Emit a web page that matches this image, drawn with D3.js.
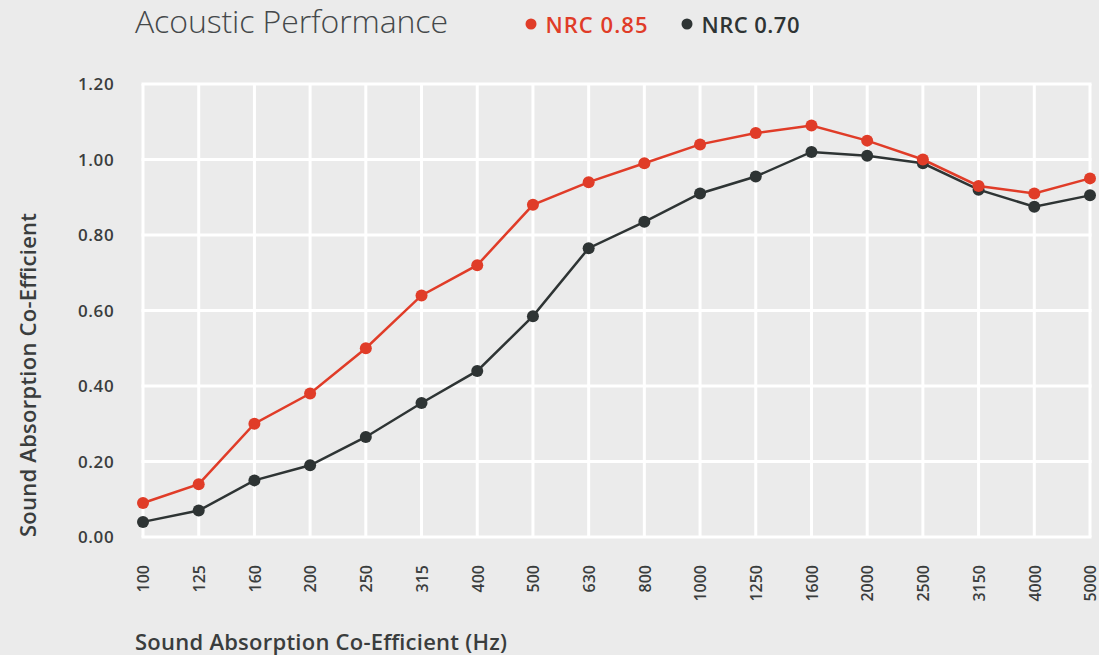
<!DOCTYPE html>
<html><head><meta charset="utf-8">
<script src="https://cdn.jsdelivr.net/npm/d3@7"></script>
<style>
html,body{margin:0;padding:0;background:#ebebeb;}
svg{display:block;font-family:"Open Sans",sans-serif;}
</style></head><body>
<svg id="c" width="1099" height="655"></svg>
<script>
const categories = ["100","125","160","200","250","315","400","500","630","800","1000","1250","1600","2000","2500","3150","4000","5000"];
const nrc085 = [0.09,0.14,0.30,0.38,0.50,0.64,0.72,0.88,0.94,0.99,1.04,1.07,1.09,1.05,1.00,0.93,0.91,0.95];
const nrc070 = [0.04,0.07,0.15,0.19,0.265,0.355,0.44,0.585,0.765,0.835,0.91,0.955,1.02,1.01,0.99,0.92,0.875,0.905];
const yTicks = [0,0.2,0.4,0.6,0.8,1.0,1.2];
const seriesNames = ["NRC 0.85","NRC 0.70"];
const colors = ["#e03c28","#2e3434"];

const svg = d3.select("#c");
const L=143, R=1090, T=84, B=537;
const x = d3.scalePoint().domain(categories).range([L,R]);
const y = d3.scaleLinear().domain([0,1.2]).range([B,T]);
const txt = "#3a3d3d";

// grid
const g = svg.append("g");
g.selectAll(".hg").data(yTicks).join("line")
  .attr("x1",L-1.5).attr("x2",R+1.5).attr("y1",d=>y(d)).attr("y2",d=>y(d))
  .attr("stroke","#fff").attr("stroke-width",3);
g.selectAll(".vg").data(categories).join("line")
  .attr("x1",d=>x(d)).attr("x2",d=>x(d)).attr("y1",T).attr("y2",B)
  .attr("stroke","#fff").attr("stroke-width",3);

// y axis labels
const yAxis = d3.axisLeft(y).tickValues(yTicks).tickFormat(d3.format(".2f")).tickSize(0).tickPadding(0);
const ya = svg.append("g").attr("transform",`translate(78,0)`).call(yAxis);
ya.select(".domain").remove();
ya.selectAll("text").attr("text-anchor","start").attr("x",0)
  .attr("font-size",17).attr("font-weight",600).attr("fill",txt).attr("letter-spacing",0.6)
  .attr("font-family","'Open Sans',sans-serif").attr("dy","0.35em");

// x axis labels
const xAxis = d3.axisBottom(x).tickSize(0).tickPadding(0);
const xa = svg.append("g").attr("transform",`translate(0,565)`).call(xAxis);
xa.select(".domain").remove();
xa.selectAll("text").attr("transform","rotate(-90)").attr("text-anchor","end")
  .attr("x",0).attr("y",0).attr("dx",0).attr("dy","0.36em")
  .attr("font-size",16).attr("font-weight",600).attr("fill",txt)
  .attr("font-family","'Open Sans',sans-serif");

// lines
const data = [nrc085, nrc070];
const line = d3.line().x((d,i)=>x(categories[i])).y(d=>y(d));
[1,0].forEach(k=>{
  svg.append("path").datum(data[k]).attr("d",line).attr("fill","none")
    .attr("stroke",colors[k]).attr("stroke-width",2.5);
  svg.append("g").selectAll("circle").data(data[k]).join("circle")
    .attr("cx",(d,i)=>x(categories[i])).attr("cy",d=>y(d)).attr("r",6)
    .attr("fill",colors[k]);
});

// title
svg.append("text").attr("x",135).attr("y",33).text("Acoustic Performance")
  .attr("font-size",32).attr("font-weight",300).attr("fill","#44484a")
  .attr("textLength",313).attr("lengthAdjust","spacing");

// legend
const lg = [{x:531,name:seriesNames[0],c:colors[0],w:102},{x:687,name:seriesNames[1],c:colors[1],w:98}];
lg.forEach(l=>{
  svg.append("circle").attr("cx",l.x).attr("cy",24).attr("r",5.5).attr("fill",l.c);
  svg.append("text").attr("x",l.x+14.5).attr("y",33).text(l.name)
    .attr("font-size",22).attr("font-weight",600).attr("fill",l.c)
    .attr("textLength",l.w).attr("lengthAdjust","spacing");
});

// axis titles
svg.append("text").attr("transform","translate(36,375) rotate(-90)").attr("text-anchor","middle")
  .text("Sound Absorption Co-Efficient").attr("font-size",22).attr("font-weight",600).attr("fill",txt)
  .attr("textLength",324).attr("lengthAdjust","spacing");
svg.append("text").attr("x",135).attr("y",650).text("Sound Absorption Co-Efficient (Hz)")
  .attr("font-size",22).attr("font-weight",600).attr("fill",txt)
  .attr("textLength",372).attr("lengthAdjust","spacing");
</script></body></html>
